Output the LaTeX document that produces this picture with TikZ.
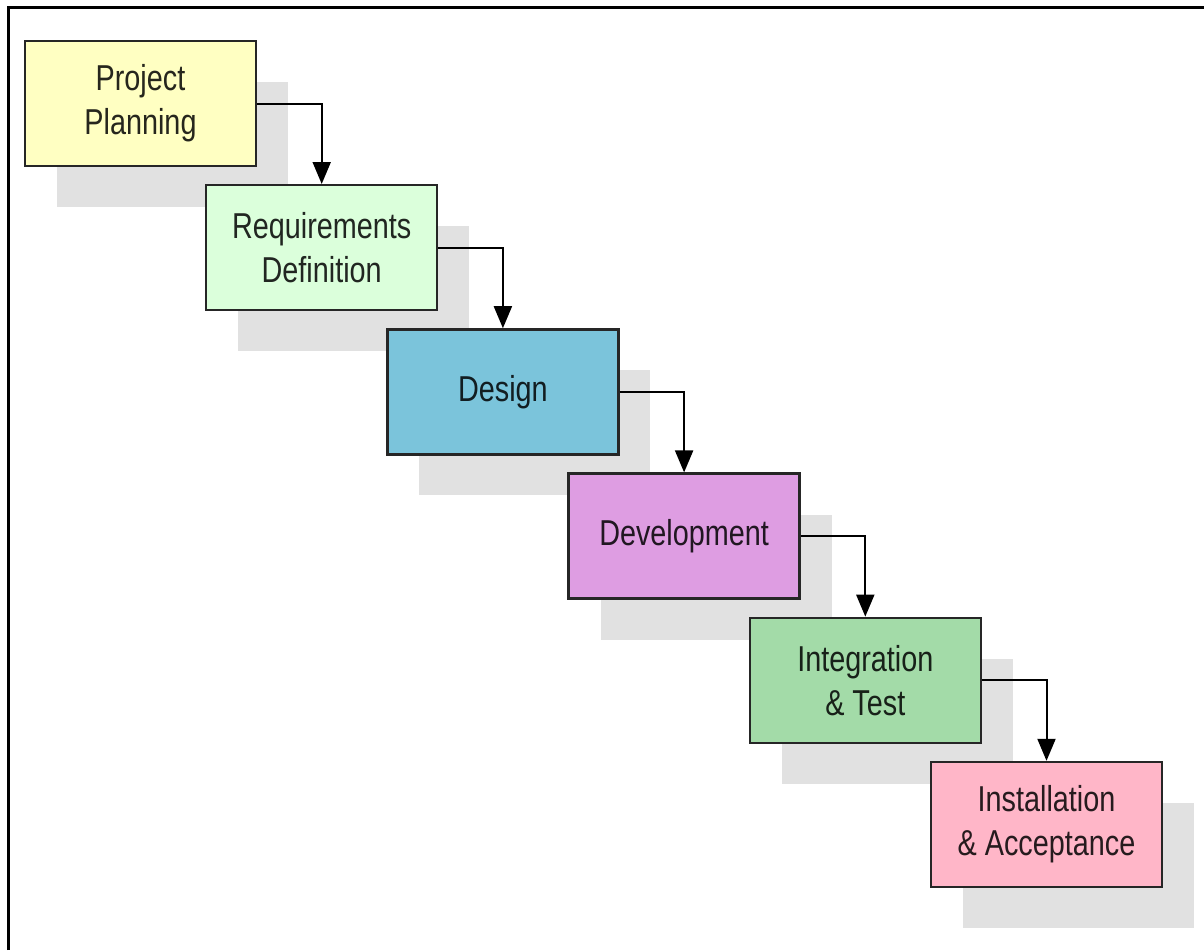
\documentclass[tikz,border=0pt]{standalone}
\usepackage{fontspec}
\setmainfont{Liberation Sans}
\newfontfamily\boxfont[FakeStretch=0.8]{Liberation Sans}
\usetikzlibrary{arrows.meta,shadows}

\definecolor{planfill}{HTML}{FFFFC2}
\definecolor{reqfill}{HTML}{DBFFDB}
\definecolor{designfill}{HTML}{7BC4DB}
\definecolor{devfill}{HTML}{DE9DE2}
\definecolor{testfill}{HTML}{A3DBA8}
\definecolor{installfill}{HTML}{FFB6C8}
\definecolor{shadowgray}{HTML}{E1E1E1}

\begin{document}
\begin{tikzpicture}
  [x=0.5pt, y=-0.5pt,
   phase/.style={draw=black!85, line width=1.2pt,
    minimum width=115.5pt, minimum height=62.5pt, align=center,
    font=\boxfont\fontsize{18}{22}\selectfont,
    general shadow={fill=shadowgray, shadow xshift=16pt, shadow yshift=-20.5pt}},
   flow/.style={-{Triangle[width=9pt,length=11pt]}, line width=1pt}]
  \def \dx {181.2}
  \def \dy {144.2}

  \useasboundingbox (0,0) rectangle (1204,950);
  % frame, top and left only
  \draw[line width=1.5pt] (8,950) -- (8,7) -- (1204,7);

  \foreach \i/\col/\txt in {1/planfill/{Project\\Planning},
    2/reqfill/{Requirements\\Definition}, 3/designfill/{Design},
    4/devfill/{Development}, 5/testfill/{Integration\\\& Test},
    6/installfill/{Installation\\\& Acceptance}}
  {
    \node[phase, fill=\col, text=\col!15!black] (phase\i)
      at ({140.5+\dx*(\i-1)}, {103.5+\dy*(\i-1)}) {\txt};
  }

  \foreach \i [count=\j from 2] in {1,...,5}
    \draw[flow] (phase\i.east) -| (phase\j.north);
\end{tikzpicture}
\end{document}
